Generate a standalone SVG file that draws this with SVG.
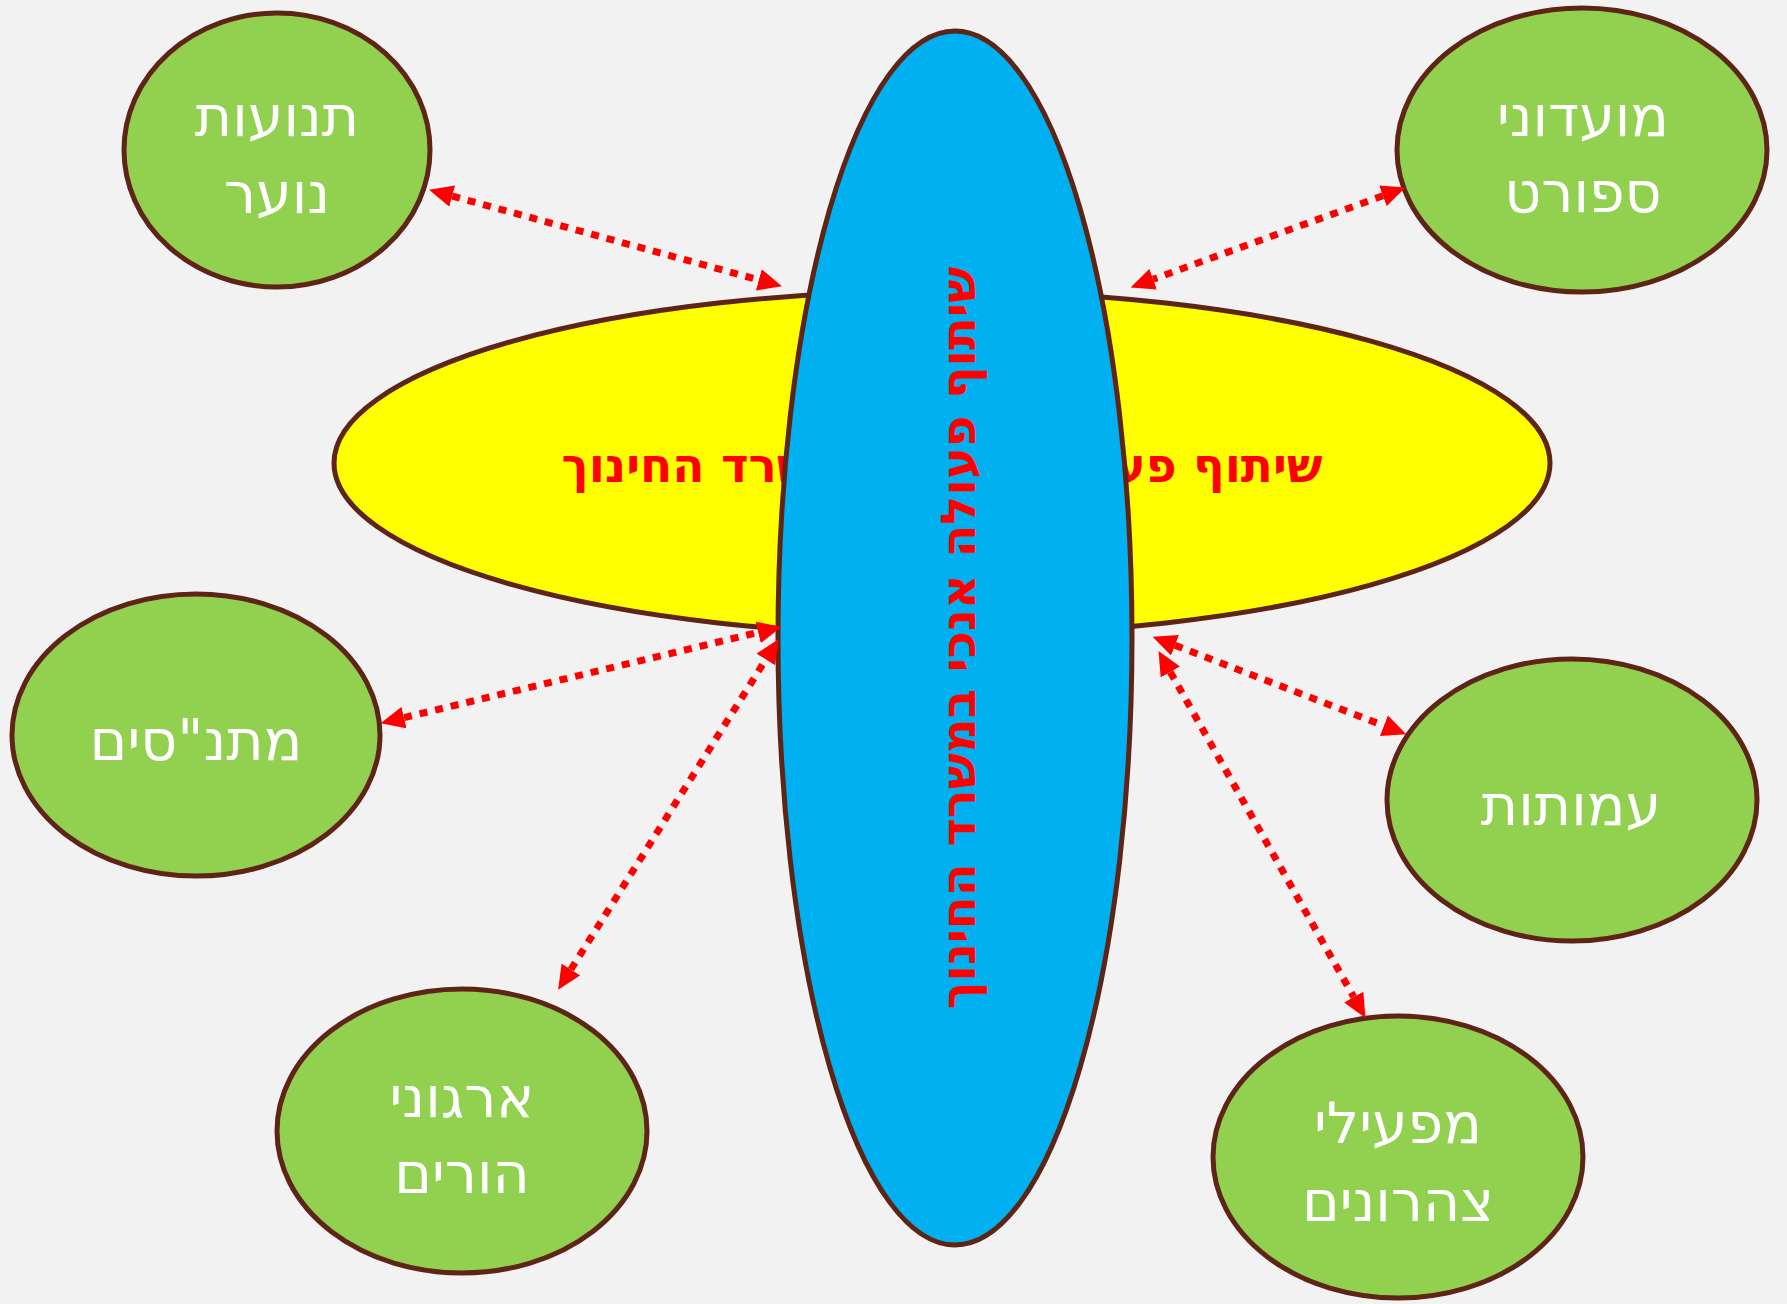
<svg xmlns="http://www.w3.org/2000/svg" width="1787" height="1304" viewBox="0 0 1787 1304">
<style>
.node{fill:#92D050;stroke:#5E2416;stroke-width:5}
.lbl{fill:#FFFFFF;font-family:"DejaVu Sans","Liberation Sans",sans-serif;font-size:57px;text-anchor:middle;direction:rtl}
.red{fill:#FF0000;font-family:"DejaVu Sans","Liberation Sans",sans-serif;font-weight:bold;text-anchor:middle;direction:rtl}
.conn{stroke:#FF0000;stroke-width:7;stroke-dasharray:8 8;fill:none;marker-start:url(#ah);marker-end:url(#ah)}
</style>
<defs>
<marker id="ah" viewBox="0 0 24 22" markerWidth="24" markerHeight="22" refX="0" refY="11" orient="auto-start-reverse" markerUnits="userSpaceOnUse">
<path d="M0,0 L24,11 L0,22 z" fill="#FF0000"/>
</marker>
</defs>
<rect width="1787" height="1304" fill="#F2F2F2"/>
<g id="horizontal">
<ellipse cx="942" cy="463" rx="608" ry="172" fill="#FFFF00" stroke="#5E2416" stroke-width="5"/>
<text class="red" x="942" y="482" font-size="47">שיתוף פעולה אופקי במשרד החינוך</text>
</g>
<g id="vertical">
<ellipse cx="955" cy="638" rx="177" ry="607" fill="#00B0F0" stroke="#5E2416" stroke-width="5"/>
<text class="red" transform="translate(975,638) rotate(-90)" x="0" y="0" font-size="48">שיתוף פעולה אנכי במשרד החינוך</text>
</g>
<g id="youth">
<ellipse class="node" cx="277" cy="150" rx="153" ry="137"/>
<text class="lbl" x="277" y="136">תנועות</text>
<text class="lbl" x="277" y="213">נוער</text>
</g>
<g id="sport">
<ellipse class="node" cx="1582" cy="150" rx="185" ry="142"/>
<text class="lbl" x="1583" y="136">מועדוני</text>
<text class="lbl" x="1583" y="212">ספורט</text>
</g>
<g id="matnasim">
<ellipse class="node" cx="196" cy="735" rx="184" ry="141"/>
<text class="lbl" x="196" y="760">מתנ"סים</text>
</g>
<g id="amutot">
<ellipse class="node" cx="1572" cy="800" rx="185" ry="141"/>
<text class="lbl" x="1571" y="825">עמותות</text>
</g>
<g id="parents">
<ellipse class="node" cx="462" cy="1131" rx="185" ry="142"/>
<text class="lbl" x="462" y="1117">ארגוני</text>
<text class="lbl" x="462" y="1193">הורים</text>
</g>
<g id="afterschool">
<ellipse class="node" cx="1398" cy="1157" rx="185" ry="141"/>
<text class="lbl" x="1398" y="1143">מפעילי</text>
<text class="lbl" x="1398" y="1221">צהרונים</text>
</g>
<g id="connectors">
<line class="conn" x1="452.2" y1="196.1" x2="758.8" y2="279.9"/>
<line class="conn" x1="1382.9" y1="195.8" x2="1153.1" y2="279.2"/>
<line class="conn" x1="404" y1="717.6" x2="758.2" y2="632.4"/>
<line class="conn" x1="570.9" y1="969.5" x2="765.8" y2="659.5"/>
<line class="conn" x1="1175" y1="645.3" x2="1383.9" y2="725.7"/>
<line class="conn" x1="1170.3" y1="672" x2="1353.7" y2="997"/>
</g>
</svg>
